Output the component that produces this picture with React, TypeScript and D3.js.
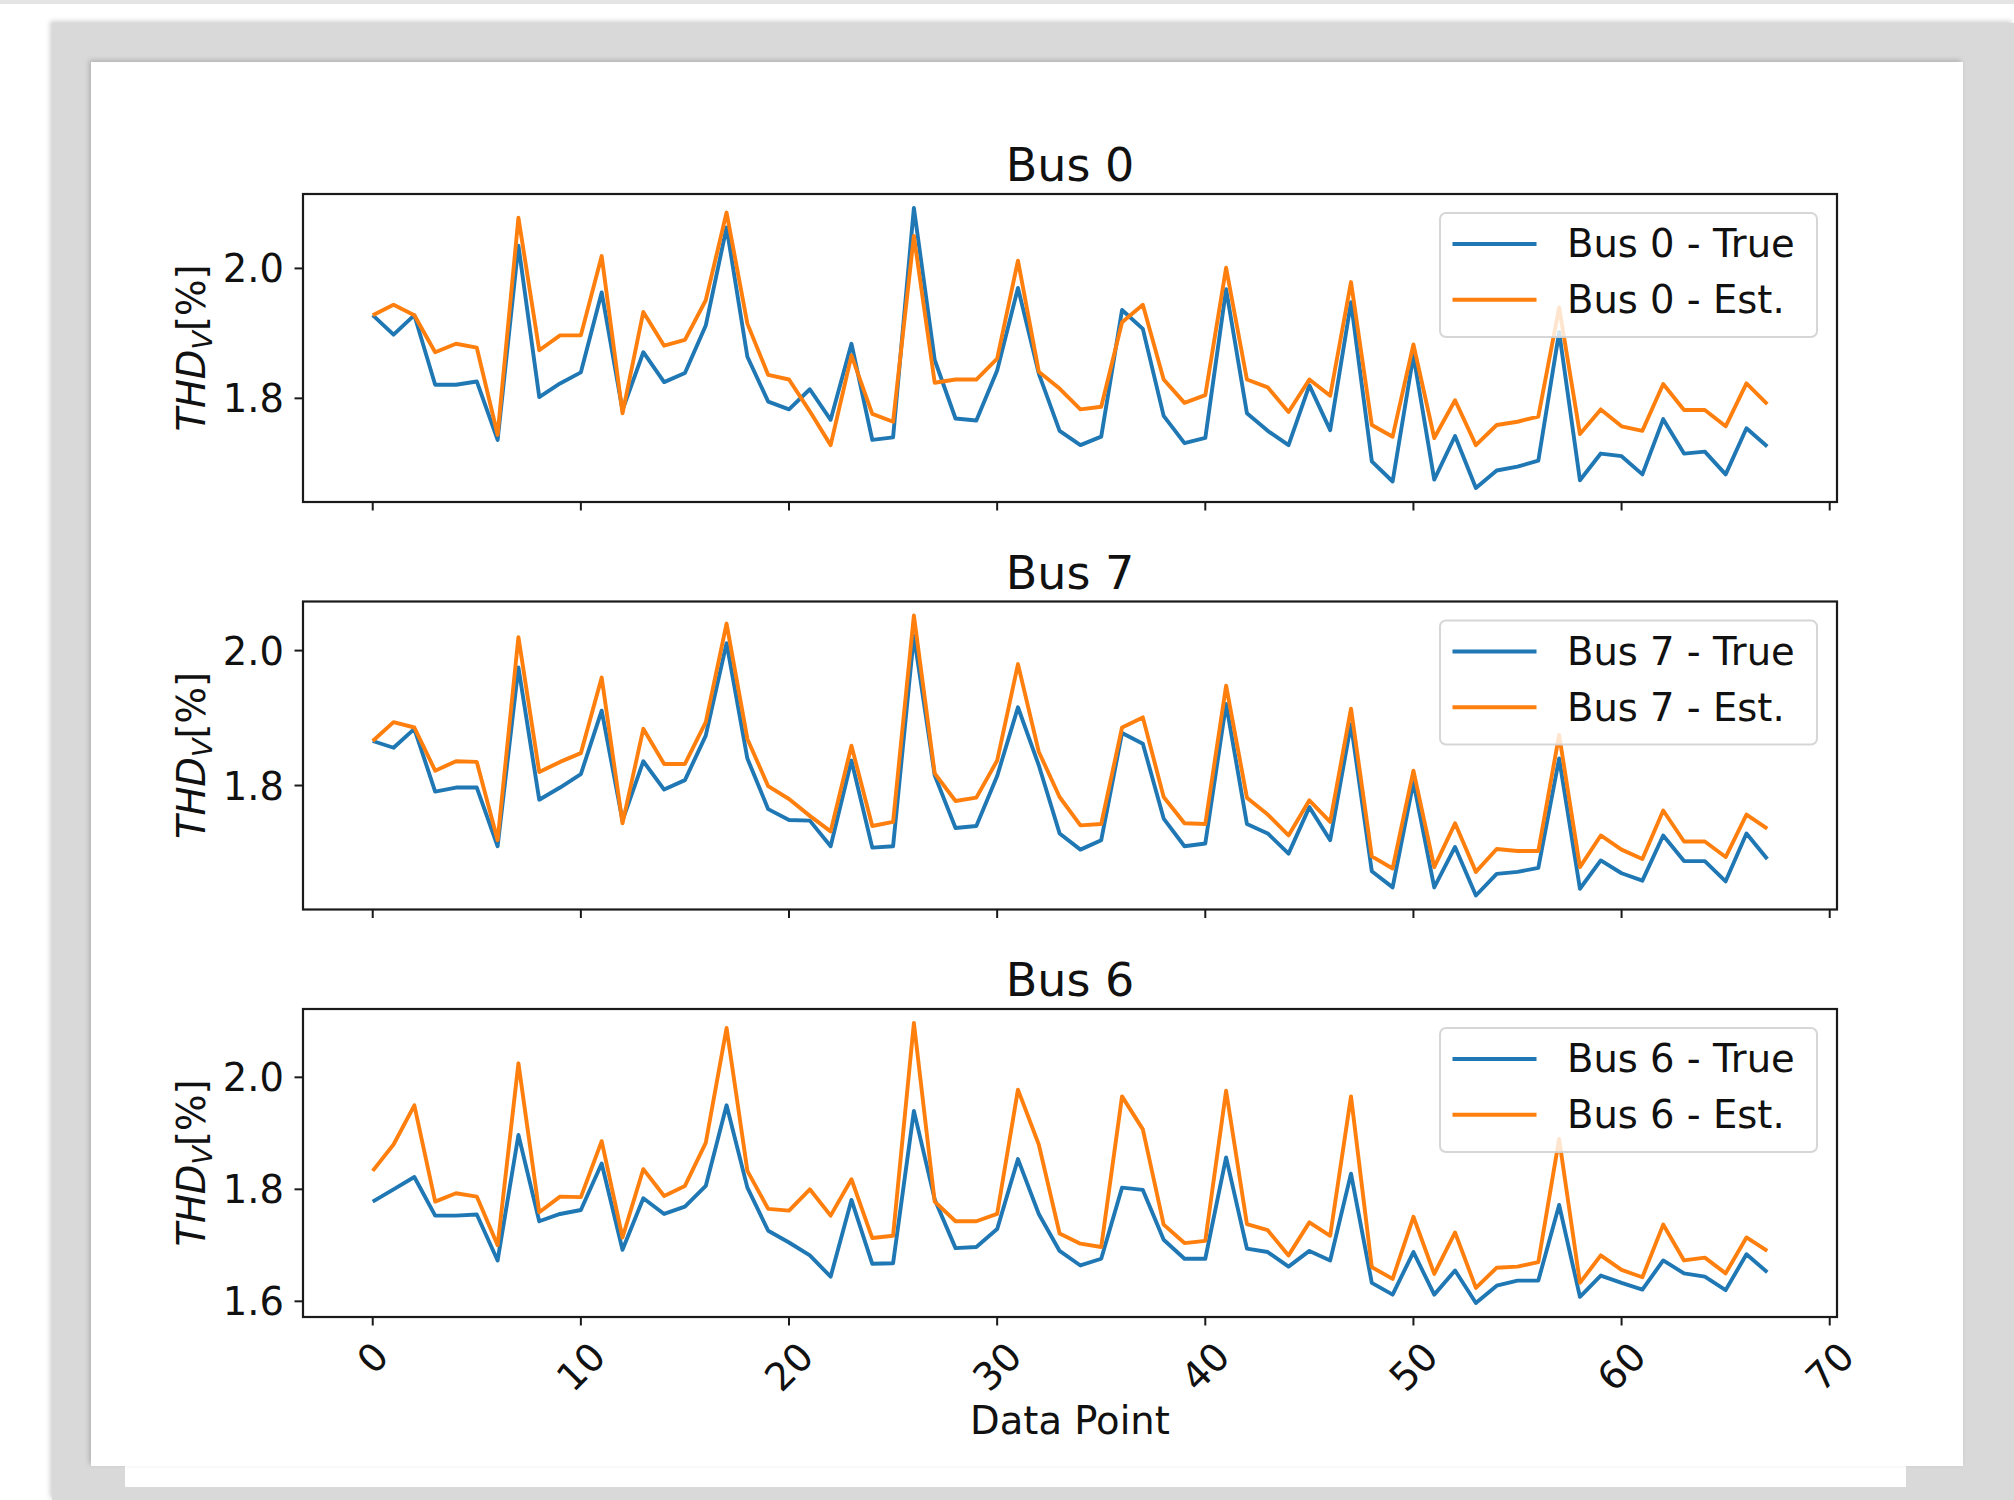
import React from 'react';
import * as d3 from 'd3';

// ---------- data ----------
const titles = ['Bus 0', 'Bus 7', 'Bus 6'];
const busNames = ['Bus 0', 'Bus 7', 'Bus 6'];

const bus0True = [1.928,1.898,1.928,1.821,1.821,1.826,1.736,2.035,1.802,1.823,
  1.840,1.963,1.782,1.871,1.825,1.839,1.912,2.063,1.864,1.795,
  1.783,1.814,1.767,1.884,1.736,1.740,2.093,1.859,1.769,1.766,
  1.843,1.970,1.838,1.750,1.728,1.741,1.936,1.907,1.773,1.731,
  1.739,1.968,1.777,1.750,1.728,1.820,1.751,1.948,1.703,1.672,
  1.866,1.675,1.742,1.662,1.689,1.695,1.704,1.902,1.674,1.715,
  1.711,1.683,1.768,1.715,1.718,1.683,1.754,1.726];
const bus0Est = [1.928,1.944,1.928,1.871,1.884,1.878,1.744,2.078,1.874,1.897,
  1.897,2.019,1.777,1.933,1.881,1.890,1.951,2.086,1.915,1.836,
  1.829,1.780,1.728,1.866,1.776,1.764,2.050,1.824,1.829,1.829,
  1.861,2.012,1.841,1.815,1.783,1.787,1.917,1.944,1.829,1.793,
  1.805,2.001,1.829,1.817,1.779,1.829,1.804,1.979,1.759,1.741,
  1.883,1.739,1.797,1.728,1.759,1.764,1.772,1.940,1.745,1.783,
  1.757,1.750,1.822,1.782,1.782,1.757,1.823,1.791];
const bus7True = [1.866,1.856,1.884,1.791,1.797,1.797,1.710,1.975,1.779,1.797,
  1.817,1.911,1.748,1.836,1.794,1.808,1.874,2.011,1.840,1.765,
  1.749,1.748,1.710,1.837,1.708,1.710,2.022,1.815,1.737,1.740,
  1.814,1.916,1.830,1.729,1.705,1.719,1.878,1.862,1.751,1.710,
  1.714,1.921,1.743,1.729,1.699,1.768,1.719,1.891,1.673,1.649,
  1.805,1.649,1.709,1.637,1.669,1.672,1.678,1.840,1.647,1.689,
  1.670,1.659,1.726,1.688,1.688,1.658,1.729,1.691];
const bus7Est = [1.866,1.894,1.886,1.822,1.836,1.835,1.719,2.020,1.820,1.835,
  1.848,1.960,1.744,1.884,1.832,1.832,1.894,2.040,1.869,1.799,
  1.780,1.755,1.732,1.859,1.740,1.746,2.052,1.818,1.777,1.782,
  1.837,1.980,1.850,1.783,1.741,1.743,1.886,1.901,1.783,1.744,
  1.743,1.948,1.782,1.757,1.726,1.778,1.746,1.914,1.695,1.677,
  1.822,1.679,1.744,1.672,1.706,1.703,1.703,1.875,1.679,1.726,
  1.705,1.691,1.763,1.717,1.717,1.694,1.757,1.736];
const bus6True = [1.778,1.800,1.822,1.753,1.753,1.755,1.673,1.897,1.743,1.756,
  1.763,1.846,1.692,1.784,1.756,1.769,1.806,1.950,1.803,1.726,
  1.705,1.682,1.644,1.781,1.667,1.668,1.940,1.782,1.695,1.697,
  1.729,1.854,1.756,1.690,1.664,1.676,1.803,1.799,1.710,1.676,
  1.676,1.857,1.694,1.688,1.662,1.690,1.673,1.828,1.633,1.612,
  1.688,1.612,1.655,1.597,1.628,1.637,1.637,1.772,1.608,1.646,
  1.633,1.621,1.673,1.650,1.644,1.620,1.684,1.652];
const bus6Est = [1.833,1.880,1.950,1.778,1.793,1.787,1.700,2.025,1.759,1.787,
  1.786,1.886,1.714,1.836,1.788,1.806,1.883,2.088,1.833,1.765,
  1.762,1.800,1.753,1.818,1.713,1.717,2.097,1.778,1.743,1.743,
  1.756,1.978,1.880,1.721,1.703,1.697,1.966,1.907,1.737,1.704,
  1.708,1.976,1.738,1.727,1.682,1.741,1.717,1.966,1.661,1.640,
  1.751,1.649,1.723,1.624,1.660,1.662,1.670,1.890,1.633,1.682,
  1.656,1.643,1.737,1.673,1.678,1.650,1.714,1.690];

const trueSeries = [bus0True, bus7True, bus6True];
const estSeries = [bus0Est, bus7Est, bus6Est];
const xTicks = [0, 10, 20, 30, 40, 50, 60, 70];
const yTickValues = [1.6, 1.8, 2.0];
const xLabel = 'Data Point';

// ---------- layout ----------
const W = 2014, H = 1500;
const AX_L = 303, AX_R = 1837;
const TOPS = [194, 601.5, 1009];
const AX_H = 308;
const BLUE = '#1f77b4', ORANGE = '#ff7f0e';
const FONT = '"DejaVu Sans", Verdana, sans-serif';
const FS = 38.5;
const LW = 3.9;

function padExtent(arr: number[][]): [number, number] {
  const all = arr.flat();
  const lo = d3.min(all) as number, hi = d3.max(all) as number;
  const p = (hi - lo) * 0.05;
  return [lo - p, hi + p];
}

const n = bus0True.length;
const xDomain: [number, number] = [0 - (n - 1) * 0.05, (n - 1) * 1.05];
const x = d3.scaleLinear().domain(xDomain).range([AX_L, AX_R]);

function Panel({ idx }: { idx: number }) {
  const top = TOPS[idx];
  const bottom = top + AX_H;
  const tr = trueSeries[idx], es = estSeries[idx];
  const y = d3.scaleLinear().domain(padExtent([tr, es])).range([bottom, top]);
  const line = d3.line<number>().x((_, i) => x(i)).y((v) => y(v));
  const [d0, d1] = y.domain();
  const yt = yTickValues.filter((v) => v >= d0 && v <= d1);
  const legL = AX_R - 20 - 377, legT = top + 19;
  const midY = (top + bottom) / 2;
  return (
    <g>
      <path d={line(tr) as string} fill="none" stroke={BLUE} strokeWidth={LW} strokeLinejoin="round" />
      <path d={line(es) as string} fill="none" stroke={ORANGE} strokeWidth={LW} strokeLinejoin="round" />
      <rect x={AX_L} y={top} width={AX_R - AX_L} height={AX_H} fill="none" stroke="#1a1a1a" strokeWidth={2.2} />
      {xTicks.map((t) => (
        <line key={t} x1={x(t)} x2={x(t)} y1={bottom} y2={bottom + 8.5} stroke="#1a1a1a" strokeWidth={2} />
      ))}
      {yt.map((t) => (
        <g key={t}>
          <line x1={AX_L - 8.5} x2={AX_L} y1={y(t)} y2={y(t)} stroke="#1a1a1a" strokeWidth={2} />
          <text x={AX_L - 19} y={y(t) + 14} textAnchor="end" fontSize={FS} fontFamily={FONT} fill="#111">
            {t.toFixed(1)}
          </text>
        </g>
      ))}
      <text x={(AX_L + AX_R) / 2} y={top - 13} textAnchor="middle" fontSize={46} fontFamily={FONT} fill="#111">
        {titles[idx]}
      </text>
      <text transform={`translate(205,${midY}) rotate(-90)`} textAnchor="middle" fontSize={FS} fontFamily={FONT} fill="#111">
        <tspan fontStyle="italic">THD</tspan>
        <tspan fontStyle="italic" fontSize={FS * 0.7} dy={7}>V</tspan>
        <tspan dy={-7}>[%]</tspan>
      </text>
      <rect x={legL} y={legT} width={377} height={124} rx={6} fill="#ffffff" fillOpacity={0.8} stroke="#d2d2d2" strokeOpacity={0.9} strokeWidth={2} />
      <line x1={legL + 12.5} x2={legL + 96.5} y1={legT + 31} y2={legT + 31} stroke={BLUE} strokeWidth={LW} />
      <line x1={legL + 12.5} x2={legL + 96.5} y1={legT + 86.7} y2={legT + 86.7} stroke={ORANGE} strokeWidth={LW} />
      <text x={legL + 127} y={legT + 44.4} fontSize={FS} fontFamily={FONT} fill="#111">{`${busNames[idx]} - True`}</text>
      <text x={legL + 127} y={legT + 100} fontSize={FS} fontFamily={FONT} fill="#111">{`${busNames[idx]} - Est.`}</text>
    </g>
  );
}

export default function App() {
  const lastBottom = TOPS[2] + AX_H;
  return (
    <svg width={W} height={H} style={{ position: 'absolute', left: 0, top: 0, display: 'block' }}>
      <defs>
        <filter id="sh" x="-5%" y="-5%" width="110%" height="110%">
          <feDropShadow dx="-2" dy="-2" stdDeviation="2.5" floodColor="#000" floodOpacity="0.18" />
        </filter>
      </defs>
      <rect x={0} y={0} width={W} height={H} fill="#ffffff" />
      <rect x={0} y={0} width={W} height={4} fill="#e4e4e4" />
      <rect x={52} y={23} width={W - 52} height={H - 23} fill="#d9d9d9" filter="url(#sh)" />
      <rect x={125} y={1440} width={1781} height={47} fill="#ffffff" />
      <rect x={91} y={62} width={1872} height={1404} fill="#ffffff" filter="url(#sh)" />
      {[0, 1, 2].map((i) => <Panel key={i} idx={i} />)}
      {xTicks.map((t) => {
        const w = String(t).length * 24.5;
        const cy = 1343 + (w + 29) / (2 * Math.SQRT2) - 4;
        return (
          <text key={t} transform={`translate(${x(t)},${cy}) rotate(-45)`} textAnchor="middle" dominantBaseline="central"
            fontSize={FS} fontFamily={FONT} fill="#111">{t}</text>
        );
      })}
      <text x={(AX_L + AX_R) / 2} y={lastBottom + 117} textAnchor="middle" fontSize={FS} fontFamily={FONT} fill="#111">
        {xLabel}
      </text>
    </svg>
  );
}
